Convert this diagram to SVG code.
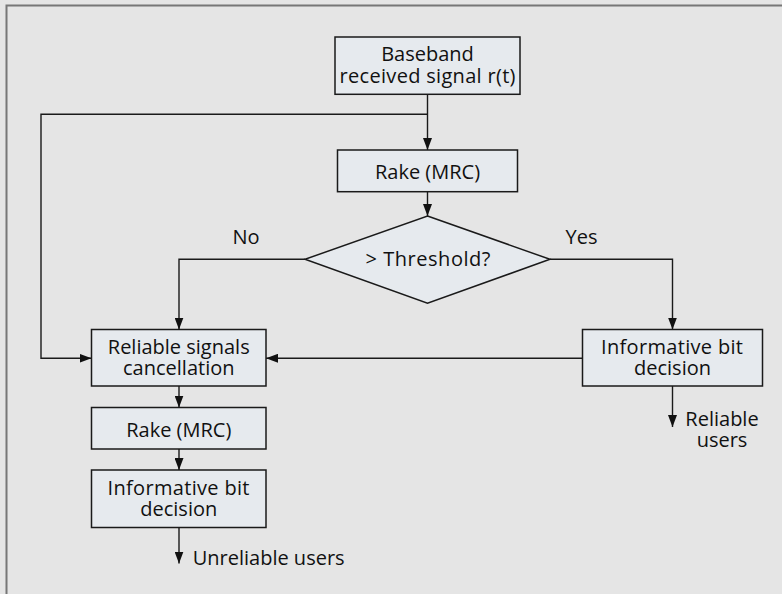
<svg xmlns="http://www.w3.org/2000/svg" width="782" height="594" viewBox="0 0 782 594">
<defs>
<marker id="ah" markerUnits="userSpaceOnUse" markerWidth="12" markerHeight="9" refX="12" refY="4.5" orient="auto">
<path d="M0,0 L12,4.5 L0,9 z" fill="#111"/>
</marker>
<style>
.bx{fill:#e6eaee;stroke:#1a1a1a;stroke-width:1.5}
.ln{fill:none;stroke:#1a1a1a;stroke-width:1.4}
.ar{marker-end:url(#ah)}
text{font-family:"Open Sans","Liberation Sans",sans-serif;font-size:20px;fill:#111}
.c{text-anchor:middle}
</style>
</defs>
<rect x="0" y="0" width="782" height="594" fill="#e5e5e5"/>
<path d="M6.5,594 L6.5,5.5 L782,5.5" fill="none" stroke="#777" stroke-width="2"/>
<g id="connectors">
<path class="ln ar" d="M427.5,94.3 L427.5,150"/>
<path class="ln ar" d="M427.5,114.3 L41,114.3 L41,358.3 L91.5,358.3"/>
<path class="ln ar" d="M427.5,191.7 L427.5,216"/>
<path class="ln ar" d="M305,259.3 L179,259.3 L179,329.5"/>
<path class="ln ar" d="M550,259.3 L672.5,259.3 L672.5,329.5"/>
<path class="ln ar" d="M582.5,358.3 L266,358.3"/>
<path class="ln ar" d="M179,386 L179,407.5"/>
<path class="ln ar" d="M179,449 L179,470"/>
<path class="ln ar" d="M179,527.5 L179,563.5"/>
<path class="ln ar" d="M672.5,386 L672.5,427"/>
</g>
<g id="baseband">
<rect class="bx" x="335" y="37" width="185" height="57.3"/>
<text class="c" x="427.5" y="60.7">Baseband</text>
<text class="c" x="427.5" y="83.3" textLength="176">received signal r(t)</text>
</g>
<g id="rake1">
<rect class="bx" x="337.5" y="150" width="180" height="41.7"/>
<text class="c" x="427.5" y="178.5">Rake (MRC)</text>
</g>
<g id="threshold">
<polygon class="bx" points="427.5,216 550,259.3 427.5,303.3 305,259.3"/>
<text class="c" x="428" y="266" textLength="125">&gt; Threshold?</text>
</g>
<g id="label-no"><text class="c" x="246" y="243.5">No</text></g>
<g id="label-yes"><text class="c" x="581.5" y="243.5">Yes</text></g>
<g id="cancel">
<rect class="bx" x="91.5" y="329.5" width="174.5" height="56.5"/>
<text class="c" x="178.75" y="354">Reliable signals</text>
<text class="c" x="178.75" y="375">cancellation</text>
</g>
<g id="decision-right">
<rect class="bx" x="582.5" y="329.5" width="180" height="56.5"/>
<text class="c" x="672" y="354" textLength="142">Informative bit</text>
<text class="c" x="672.5" y="375">decision</text>
</g>
<g id="rake2">
<rect class="bx" x="91.5" y="407.5" width="174.5" height="41.5"/>
<text class="c" x="178.75" y="437">Rake (MRC)</text>
</g>
<g id="decision-left">
<rect class="bx" x="91.5" y="470" width="174.5" height="57.5"/>
<text class="c" x="178.5" y="495" textLength="142">Informative bit</text>
<text class="c" x="178.75" y="516">decision</text>
</g>
<g id="out-unreliable"><text x="192.7" y="565">Unreliable users</text></g>
<g id="out-reliable">
<text class="c" x="722" y="426">Reliable</text>
<text class="c" x="722" y="447">users</text>
</g>
</svg>
